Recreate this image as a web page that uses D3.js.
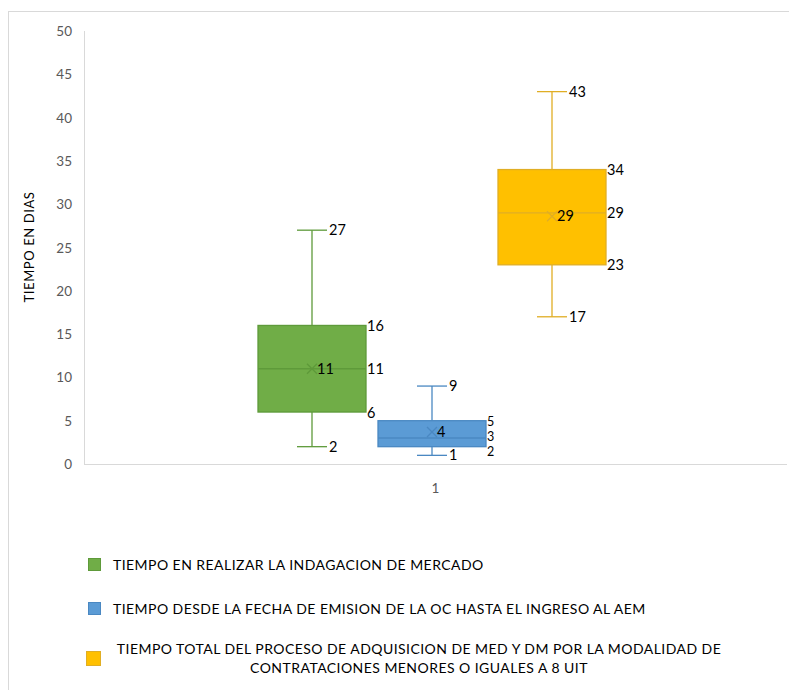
<!DOCTYPE html>
<html><head><meta charset="utf-8">
<script src="https://cdn.jsdelivr.net/npm/d3@7"></script>
<style>body{margin:0;background:#fff}svg{display:block}text{font-family:Lato,"Open Sans",sans-serif}</style>
</head><body><svg id="c" width="789" height="690"></svg>
<script>
const seriesNames = [
  "TIEMPO EN REALIZAR LA INDAGACION DE MERCADO",
  "TIEMPO DESDE LA FECHA DE EMISION DE LA OC HASTA EL INGRESO AL AEM",
  "TIEMPO TOTAL DEL PROCESO DE ADQUISICION DE MED Y DM POR LA MODALIDAD DE CONTRATACIONES MENORES O IGUALES A 8 UIT"
];
const legendLines = [
  ["TIEMPO EN REALIZAR LA INDAGACION DE MERCADO"],
  ["TIEMPO DESDE LA FECHA DE EMISION DE LA OC HASTA EL INGRESO AL AEM"],
  ["TIEMPO TOTAL DEL PROCESO DE ADQUISICION DE MED Y DM POR LA MODALIDAD DE","CONTRATACIONES MENORES O IGUALES A 8 UIT"]
];
const mins    = [2, 1, 17];
const q1s     = [6, 2, 23];
const medians = [11, 3, 29];
const q3s     = [16, 5, 34];
const maxs    = [27, 9, 43];
const means   = [11, 3.7, 28.6];
const meanLabels = ["11", "4", "29"];
const fills   = ["#70ad47", "#5b9bd5", "#ffc000"];
const strokes = ["#5e9a3a", "#4a88c2", "#e0ae24"];
const categories = ["1"];
const yTicks = [0,5,10,15,20,25,30,35,40,45,50];

const svg = d3.select("#c");
svg.append("rect").attr("x",8.5).attr("y",11.5).attr("width",800).attr("height",700)
  .attr("fill","#fff").attr("stroke","#d9d9d9");

const L=84, R=787, T=31, B=464;
const y = d3.scaleLinear().domain([0,50]).range([B,T]);
const xCat = d3.scaleBand().domain(categories).range([L,R]);
const xs = d3.scaleBand().domain(d3.range(3)).range([252,612]).paddingInner(0.1).paddingOuter(0.05);

// axes
svg.append("line").attr("x1",L+0.5).attr("x2",L+0.5).attr("y1",T).attr("y2",B).attr("stroke","#d9d9d9");
svg.append("line").attr("x1",L).attr("x2",R).attr("y1",B+0.5).attr("y2",B+0.5).attr("stroke","#d9d9d9");
svg.selectAll(".yt").data(yTicks).join("text").attr("x",72).attr("y",d=>y(d)+5)
  .attr("text-anchor","end").attr("font-size",13.5).attr("fill","#595959").text(d=>d);
svg.selectAll(".xt").data(categories).join("text").attr("x",d=>xCat(d)+xCat.bandwidth()/2).attr("y",493)
  .attr("text-anchor","middle").attr("font-size",13.5).attr("fill","#595959").text(d=>d);
svg.append("text").attr("transform","translate(34,"+(247)+") rotate(-90)").attr("text-anchor","middle")
  .attr("font-size",13).attr("letter-spacing",0.6).attr("fill","#000").text("TIEMPO EN DIAS");

const idx=[0,1,2];
const g = svg.append("g");
idx.forEach(i=>{
  const x0 = xs(i), w = xs.bandwidth(), cx = x0+w/2, cw=15;
  const s = strokes[i];
  // whiskers
  g.append("line").attr("x1",cx).attr("x2",cx).attr("y1",y(maxs[i])).attr("y2",y(q3s[i])).attr("stroke",s).attr("stroke-width",1.3);
  g.append("line").attr("x1",cx).attr("x2",cx).attr("y1",y(q1s[i])).attr("y2",y(mins[i])).attr("stroke",s).attr("stroke-width",1.3);
  g.append("line").attr("x1",cx-cw).attr("x2",cx+cw).attr("y1",y(maxs[i])).attr("y2",y(maxs[i])).attr("stroke",s).attr("stroke-width",1.3);
  g.append("line").attr("x1",cx-cw).attr("x2",cx+cw).attr("y1",y(mins[i])).attr("y2",y(mins[i])).attr("stroke",s).attr("stroke-width",1.3);
  // box
  g.append("rect").attr("x",x0).attr("y",y(q3s[i])).attr("width",w).attr("height",y(q1s[i])-y(q3s[i]))
    .attr("fill",fills[i]).attr("stroke",s).attr("stroke-width",1.3);
  g.append("line").attr("x1",x0).attr("x2",x0+w).attr("y1",y(medians[i])).attr("y2",y(medians[i])).attr("stroke",s).attr("stroke-width",1.3);
  // mean marker
  const my=y(means[i]), m=5;
  g.append("path").attr("d",`M${cx-m},${my-m}L${cx+m},${my+m}M${cx-m},${my+m}L${cx+m},${my-m}`).attr("stroke",s).attr("stroke-width",1.3);
  // labels
  const fs=14.5;
  g.append("text").attr("x",cx+5).attr("y",my+5).attr("font-size",fs).text(meanLabels[i]);
  g.append("text").attr("x",cx+cw+2).attr("y",y(maxs[i])+5).attr("font-size",fs).text(maxs[i]);
  g.append("text").attr("x",cx+cw+2).attr("y",y(mins[i])+5).attr("font-size",fs).text(mins[i]);
  const lx = x0+w+1;
  let ly3=y(q3s[i])+5, lym=y(medians[i])+5, ly1=y(q1s[i])+5, fsq=fs;
  if(i===1){ ly3=y(q3s[i])+5.5; lym=y(medians[i])+3; ly1=y(q1s[i])+9.5; fsq=12.5; }
  if(i===0){ ly1=y(q1s[i])+6; ly3=y(q3s[i])+6; }
  g.append("text").attr("x",lx).attr("y",ly3).attr("font-size",fsq).text(q3s[i]);
  g.append("text").attr("x",lx).attr("y",lym).attr("font-size",fsq).text(medians[i]);
  g.append("text").attr("x",lx).attr("y",ly1).attr("font-size",fsq).text(q1s[i]);
});

// legend
const legY=[565,609,658];
idx.forEach(i=>{
  svg.append("rect").attr("x",i===2?86.5:88.5).attr("y",legY[i]-6.5).attr("width",i===2?14:12).attr("height",i===2?14:12)
    .attr("fill",fills[i]).attr("stroke",strokes[i]);
  const lines = legendLines[i];
  if(lines.length===1){
    svg.append("text").attr("x",113).attr("y",legY[i]+5).attr("font-size",14).attr("letter-spacing",0.45).attr("fill","#000").text(lines[0]);
  } else {
    lines.forEach((t,k)=>{
      svg.append("text").attr("x",419).attr("y",legY[i]-4+k*19).attr("text-anchor","middle")
        .attr("font-size",14).attr("letter-spacing",0.45).attr("fill","#000").text(t);
    });
  }
});
</script></body></html>
